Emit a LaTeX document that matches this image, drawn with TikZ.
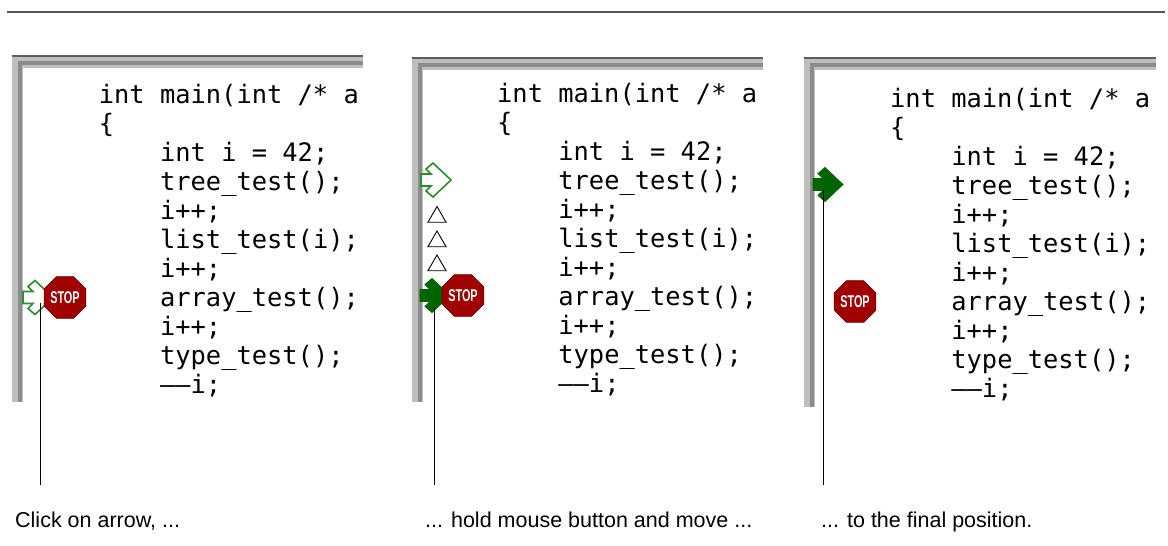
\documentclass[tikz,border=0pt]{standalone}
\usepackage{fontspec}
\usetikzlibrary{shapes.geometric}
\newfontfamily\codefont{DejaVu Sans Mono}
\newfontfamily\capfont{Liberation Sans}
\definecolor{framegray}{HTML}{BEBEBE}
\definecolor{framedark}{HTML}{8C8C8C}
\definecolor{frameedge}{HTML}{5E5E5E}
\definecolor{rulegray}{HTML}{555555}
\definecolor{stopred}{HTML}{A00000}
\definecolor{hollowgreen}{HTML}{2E8B2E}
\definecolor{fullgreen}{HTML}{006400}

\tikzset{
  codeline/.style={anchor=base west, inner sep=0pt, font=\codefont\fontsize{25.4}{29}\selectfont},
  caption/.style={anchor=base west, inner sep=0pt, font=\capfont\fontsize{21.5}{24}\selectfont},
  stopsign/.style={regular polygon, regular polygon sides=8, minimum size=37.5pt, inner sep=0pt,
    fill=stopred, draw=stopred!70!black, line width=0.8pt, text=white,
    font=\capfont\bfseries\fontsize{17}{17}\selectfont},
  marker/.style={regular polygon, regular polygon sides=3, minimum size=21pt, inner sep=0pt,
    draw=black, line width=0.9pt},
  hollowarrow/.style={draw=hollowgreen, fill=white, line width=1.6pt},
  fullarrow/.style={draw=fullgreen, fill=fullgreen, line width=0.8pt},
  pointer/.style={draw=black, line width=0.9pt}
}

\newcommand{\codelines}{0/{int main(int /* a}, 0/{\{}, 4/{int i = 42;}, 4/{tree\_test();},
  4/{i++;}, 4/{list\_test(i);}, 4/{i++;}, 4/{array\_test();}, 4/{i++;},
  4/{type\_test();}, 4/{——i;}}

\newcommand{\gutterarrow}[2]{%
  \path[#1] (#2) ++(0,-6) -- ++(10,0) -- ++(-5,-5) -- ++(7,-6) -- ++(18,17)
    -- ++(-18,17) -- ++(-7,-6) -- ++(5,-5) -- ++(-10,0) -- cycle;}

\begin{document}
\begin{tikzpicture}[x=1pt, y=-1pt]
  \useasboundingbox (0,0) rectangle (1168,546);
  % rule on top
  \draw[rulegray, line width=1.2pt] (7,12) -- (1165,12);
  % editor windows
  \foreach \p/\wl/\wt/\wr/\wb/\cx/\cy in {1/12/55/363/402/98.7/103, 2/412/57/763/402/497/102, 3/804/57/1156/407/890/107} {
    \begin{scope}
      \clip (\wl,\wt) rectangle (\wr,\wb);
      \fill[framegray] (\wl,\wt) rectangle (\wr,\wt+13);
      \fill[framegray] (\wl,\wt) rectangle (\wl+11,\wb);
      \fill[framedark] (\wl+6,\wt+6) rectangle (\wr,\wt+10);
      \fill[framedark] (\wl+6,\wt+6) rectangle (\wl+10,\wb);
      \fill[frameedge] (\wl,\wt) rectangle (\wr,\wt+1.5);
      \foreach \ind/\src [count=\k] in \codelines
        \node[codeline] (code\p-\k) at (\cx+\ind*15.3, \cy+\k*29.05-29.05) {\src};
    \end{scope}
  }
  % program counter arrows
  \gutterarrow{hollowarrow}{23,297.5}
  \gutterarrow{hollowarrow}{421,180}
  \gutterarrow{fullarrow}{420,295.5}
  \gutterarrow{fullarrow}{813,184.5}
  % breakpoints
  \node[stopsign] (stop1) at (65,297.5) {\scalebox{0.64}[1]{STOP}};
  \node[stopsign] (stop2) at (463,295.5) {\scalebox{0.64}[1]{STOP}};
  \node[stopsign] (stop3) at (855,301.5) {\scalebox{0.64}[1]{STOP}};
  % drag trace
  \foreach \k/\y in {1/217, 2/241.5, 3/265.5}
    \node[marker] (mark\k) at (437,\y) {};
  % pointers
  \coordinate (grab1) at (40,303);
  \coordinate (end1) at (40,485);
  \coordinate (grab2) at (434,307);
  \coordinate (end2) at (434,485);
  \coordinate (grab3) at (823,190);
  \coordinate (end3) at (823,485);
  \foreach \k in {1,2,3}
    \draw[pointer] (grab\k) -- (end\k);
  % captions
  \node[caption] (cap1) at (15,527) {Click on arrow, ...};
  \node[caption] (cap2) at (425,527) {... hold mouse button and move ...};
  \node[caption] (cap3) at (821,527) {... to the final position.};
\end{tikzpicture}
\end{document}
